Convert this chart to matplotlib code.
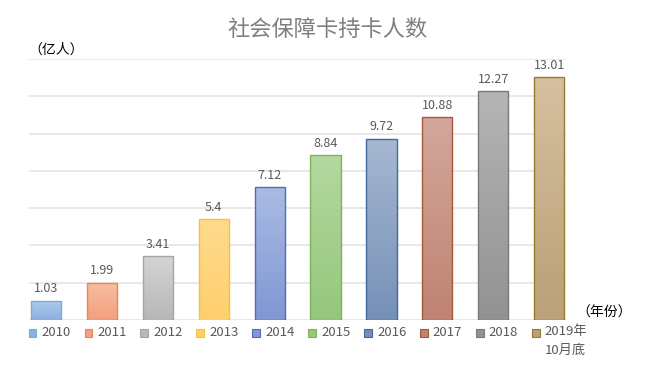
import matplotlib
matplotlib.use("Agg")
import matplotlib.pyplot as plt
import numpy as np
from matplotlib.colors import LinearSegmentedColormap
from matplotlib.patches import Rectangle
import matplotlib.transforms as mtransforms

plt.rcParams['font.family'] = ['Noto Sans CJK SC', 'DejaVu Sans']

title = "社会保障卡持卡人数"
y_unit = "（亿人）"
x_unit = "（年份）"
categories = ["2010", "2011", "2012", "2013", "2014", "2015", "2016", "2017", "2018", "2019年\n10月底"]
values = [1.03, 1.99, 3.41, 5.4, 7.12, 8.84, 9.72, 10.88, 12.27, 13.01]
value_labels = ["1.03", "1.99", "3.41", "5.4", "7.12", "8.84", "9.72", "10.88", "12.27", "13.01"]
top_colors = ["#aecbec", "#f7bea2", "#d4d4d4", "#ffdb8f", "#aabbe3", "#b3d8a0", "#a7b8d2", "#d3a79c", "#b5b5b5", "#d5c09f"]
bottom_colors = ["#8db0de", "#f3a07c", "#b7b7b7", "#ffcf6c", "#8097d3", "#95c77c", "#7590b7", "#bf8372", "#929292", "#bba078"]
edge_colors = ["#7eaadb", "#e9855a", "#a5a5a5", "#f5c33b", "#4a6fb8", "#7cb45a", "#3f6a9a", "#a6583a", "#7a7a7a", "#9a7b2c"]

fig = plt.figure(figsize=(6.5, 3.87), dpi=100)
ax = fig.add_axes([29/650, 1-320/387, (566-29)/650, (320-59)/387])

x = np.arange(len(values))
width = 0.54
bars = ax.bar(x, values, width=width, color="none", edgecolor=edge_colors, linewidth=1.0, zorder=3)

grad = np.linspace(1, 0, 256).reshape(-1, 1)
for i, b in enumerate(bars):
    cmap = LinearSegmentedColormap.from_list("g%d" % i, [bottom_colors[i], top_colors[i]])
    x0, y0 = b.get_x(), b.get_y()
    w, h = b.get_width(), b.get_height()
    im = ax.imshow(grad, cmap=cmap, aspect="auto", extent=(x0, x0 + w, y0, y0 + h),
                   origin="upper", zorder=2, vmin=0, vmax=1)
    im.set_clip_path(b)
    ax.annotate(value_labels[i], (x[i], values[i]), xytext=(0, 4), textcoords="offset points",
                ha="center", va="bottom", fontsize=9, color="#595959")

ax.set_xlim(-0.304, 9.30)
ax.set_ylim(0, 14)
ax.set_yticks(np.arange(0, 15, 2))
ax.grid(axis="y", color="#e2e2e2", linewidth=1.1, zorder=0)
ax.set_axisbelow(True)
ax.tick_params(left=False, bottom=False, labelleft=False, labelbottom=False)
for s in ax.spines.values():
    s.set_visible(False)

fig.text(327/650, 1-30/387, title, ha="center", va="center", fontsize=16, color="#7f7f7f")
fig.text(28/650, 1-50/387, y_unit, ha="left", va="center", fontsize=10, color="#000000")
fig.text(576/650, 1-313/387, x_unit, ha="left", va="center", fontsize=10, color="#000000")

# legend drawn under each bar
trans = mtransforms.blended_transform_factory(ax.transData, fig.transFigure)
sq = 0.14
ly = 1 - 333/387
for i in range(len(values)):
    r = Rectangle((x[i] - 0.31, ly - 4/387), sq, 8/387, transform=trans,
                  facecolor=bottom_colors[i], edgecolor=edge_colors[i], linewidth=0.8, clip_on=False)
    fig.add_artist(r)
    lbl = categories[i]
    if "\n" in lbl:
        fig.text(x[i] - 0.08, ly + 7.5/387, lbl, transform=trans, ha="left", va="top",
                 fontsize=9.5, color="#595959", linespacing=1.5)
    else:
        fig.text(x[i] - 0.08, ly, lbl, transform=trans, ha="left", va="center",
                 fontsize=9.5, color="#595959")

fig.savefig("out.png", dpi=100)
